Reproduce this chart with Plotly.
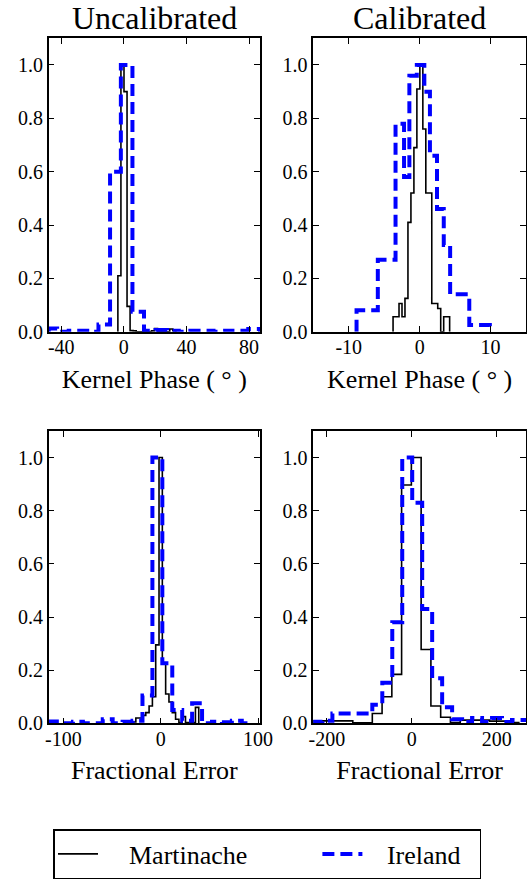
import plotly.graph_objects as go

# ---- Uncalibrated kernel phase (degrees) ----
kp_unc_mart_edges = [-3.8, -1.85, 0.1, 2.05, 4.0, 5.95, 7.9, 9.85, 11.8, 13.75, 15.7,
                     17.65, 19.6, 21.55, 23.5, 25.45, 27.4, 29.35, 31.3, 33.25]
kp_unc_mart_vals = [0.21, 1.0, 0.9, 0.095, 0.004, 0.003, 0.0, 0.0, 0.0, 0.0, 0.0,
                    0.003, 0.012, 0.0, 0.0, 0.0, 0.0, 0.01, 0.004]
kp_unc_irl_edges = [-48.0, -42.6, -35.2, -27.8, -20.4, -16.2, -8.8, -1.9, 5.5, 12.9,
                    20.3, 27.7, 35.1, 42.5, 49.9, 57.3, 64.7, 72.1, 79.5, 87.0]
kp_unc_irl_vals = [0.012, 0.0, 0.004, 0.004, 0.0, 0.027, 0.6, 1.0, 0.075, 0.004,
                   0.006, 0.004, 0.0, 0.004, 0.004, 0.0, 0.004, 0.004, 0.01]

# ---- Calibrated kernel phase (degrees) ----
kp_cal_mart_edges = [-3.75, -3.33, -2.91, -2.49, -2.07, -1.65, -1.23, -0.81, -0.39,
                     0.03, 0.45, 0.87, 1.29, 1.71, 2.13, 2.55, 2.97, 3.39, 3.81, 4.23]
kp_cal_mart_vals = [0.056, 0.056, 0.106, 0.056, 0.125, 0.41, 0.52, 0.69, 0.91, 1.0,
                    0.76, 0.52, 0.52, 0.106, 0.106, 0.087, 0.0, 0.056, 0.056]
kp_cal_irl_edges = [-8.9, -5.9, -3.4, -2.2, -1.45, -0.4, 0.66, 1.45, 2.45, 3.4, 4.3, 7.0, 9.9]
kp_cal_irl_vals = [0.08, 0.27, 0.78, 0.58, 0.96, 1.0, 0.9, 0.66, 0.46, 0.325, 0.14, 0.025]

# ---- Uncalibrated fractional error ----
fe_unc_mart_edges = [-28.9, -25.5, -22.1, -18.7, -15.3, -11.9, -8.5, -5.1, -1.7, 1.7,
                     5.1, 8.5, 11.9, 15.3, 18.7, 22.1, 25.5, 28.9, 32.3, 35.7, 39.1]
fe_unc_mart_vals = [0.005, 0.02, 0.02, 0.03, 0.04, 0.065, 0.1, 0.295, 1.0, 0.226,
                    0.11, 0.08, 0.04, 0.015, 0.003, 0.025, 0.003, 0.003, 0.003, 0.06]
fe_unc_irl_edges = [-115.0, -100.3, -90.1, -79.9, -69.7, -59.5, -49.3, -39.1, -28.9,
                    -18.7, -8.5, 1.7, 11.9, 22.1, 32.3, 42.5, 52.7, 62.9, 73.1, 83.3, 93.5]
fe_unc_irl_vals = [0.007, 0.0, 0.006, 0.0, 0.0, 0.015, 0.0, 0.006, 0.01, 0.105,
                   1.0, 0.226, 0.05, 0.01, 0.075, 0.0, 0.006, 0.004, 0.01, 0.0]

# ---- Calibrated fractional error ----
fe_cal_mart_edges = [-231, -208, -185, -162, -139, -116, -93, -70, -47, -24, -1, 22,
                     45, 68, 91, 114, 137, 160, 183, 206, 229, 252]
fe_cal_mart_vals = [0.009, 0.009, 0.009, 0.009, 0.002, 0.002, 0.037, 0.1, 0.184, 0.897,
                    1.0, 0.278, 0.065, 0.023, 0.003, 0.012, 0.012, 0.012, 0.008, 0.008, 0.003]
fe_cal_irl_edges = [-234.0, -210.5, -187.0, -163.5, -140.0, -116.5, -93.0, -69.5, -46.0,
                    -22.5, 1.0, 24.5, 48.0, 71.5, 95.0, 118.5, 142.0, 165.5, 189.0,
                    212.5, 236.0, 283.0]
fe_cal_irl_vals = [0.006, 0.01, 0.037, 0.037, 0.037, 0.037, 0.07, 0.153, 0.38, 1.0,
                   0.83, 0.43, 0.17, 0.06, 0.015, 0.005, 0.02, 0.005, 0.02, 0.005, 0.012]

panel_titles = ["Uncalibrated", "Calibrated"]
x_labels = ["Kernel Phase ( ° )", "Kernel Phase ( ° )", "Fractional Error", "Fractional Error"]
x_ranges = [[-48, 87], [-15, 15], [-115, 102], [-232, 269]]
x_tickvals = [[-40, 0, 40, 80], [-10, 0, 10], [-100, 0, 100], [-200, 0, 200]]
y_tickvals = [0.0, 0.2, 0.4, 0.6, 0.8, 1.0]
series_names = ["Martinache", "Ireland"]

panels = [
    (kp_unc_mart_edges, kp_unc_mart_vals, kp_unc_irl_edges, kp_unc_irl_vals),
    (kp_cal_mart_edges, kp_cal_mart_vals, kp_cal_irl_edges, kp_cal_irl_vals),
    (fe_unc_mart_edges, fe_unc_mart_vals, fe_unc_irl_edges, fe_unc_irl_vals),
    (fe_cal_mart_edges, fe_cal_mart_vals, fe_cal_irl_edges, fe_cal_irl_vals),
]

W, H = 527, 879
FONT = "Liberation Serif, Times New Roman, serif"
NB = "\u00a0"

# subplot boxes in pixels: (left, right, top, bottom)
boxes = [(48.7, 260.0, 38.3, 331.7), (313.3, 526.0, 38.3, 331.7),
         (48.7, 260.0, 431.0, 723.3), (313.3, 526.0, 431.0, 723.3)]

# legend labels padded so the two entries sit apart in one row
legend_labels = [NB * 4 + series_names[0] + NB * 10, NB * 3 + series_names[1] + NB * 2]


def step_xy(edges, vals):
    # outline of a step histogram: up at the first edge, down at the last one
    xs = [edges[0]] + list(edges)
    ys = [0.0] + list(vals) + [0.0]
    return xs, ys


def tick_text(vals):
    return [str(v) for v in vals]


fig = go.Figure()
layout = dict(
    width=W, height=H, margin=dict(l=0, r=0, t=0, b=0, autoexpand=False),
    paper_bgcolor="white", plot_bgcolor="white",
    font=dict(family=FONT, color="black", size=20),
    showlegend=True,
    legend=dict(
        orientation="h", x=53 / W, y=0, xanchor="left", yanchor="bottom",
        bordercolor="black", borderwidth=1.5, bgcolor="white",
        font=dict(family=FONT, size=26, color="black"),
        itemwidth=40,
    ),
)

for i, (me, mv, ie, iv) in enumerate(panels):
    n = "" if i == 0 else str(i + 1)
    xa, ya = "x" + n, "y" + n
    mx, my = step_xy(me, mv)
    ix, iy = step_xy(ie, iv)
    fig.add_trace(go.Scatter(
        x=mx, y=my, mode="lines", line=dict(color="black", width=1.6, shape="hv"),
        name=legend_labels[0], legendgroup="m", showlegend=(i == 0),
        xaxis=xa, yaxis=ya))
    fig.add_trace(go.Scatter(
        x=ix, y=iy, mode="lines",
        line=dict(color="#0000ff", width=4, shape="hv", dash="12px,6px"),
        name=legend_labels[1], legendgroup="i", showlegend=(i == 0),
        xaxis=xa, yaxis=ya))

    l, r, t, b = boxes[i]
    axis_common = dict(
        showline=True, linecolor="black", linewidth=1.5, mirror="allticks",
        ticks="inside", ticklen=6, tickwidth=1, tickcolor="black",
        showgrid=False, zeroline=False, fixedrange=True, automargin=False,
        tickfont=dict(family=FONT, size=20, color="black"),
    )
    layout["xaxis" + n] = dict(
        axis_common, domain=[l / W, r / W], anchor=ya, range=x_ranges[i],
        tickmode="array", tickvals=x_tickvals[i], ticktext=tick_text(x_tickvals[i]),
        ticklabelstandoff=-3,
        title=dict(text=x_labels[i], font=dict(family=FONT, size=26, color="black"),
                   standoff=12),
    )
    layout["yaxis" + n] = dict(
        axis_common, domain=[1 - b / H, 1 - t / H], anchor=xa, range=[0, 1.1],
        tickmode="array", tickvals=y_tickvals,
        ticktext=["%.1f" % v for v in y_tickvals],
    )

annotations = []
for j, title in enumerate(panel_titles):
    l, r, t, b = boxes[j]
    annotations.append(dict(
        text=title, x=(l + r) / 2 / W, y=1 - 18 / H, xref="paper", yref="paper",
        xanchor="center", yanchor="middle", showarrow=False,
        font=dict(family=FONT, size=32, color="black")))
layout["annotations"] = annotations

fig.update_layout(**layout)
fig.write_html("out.html")
